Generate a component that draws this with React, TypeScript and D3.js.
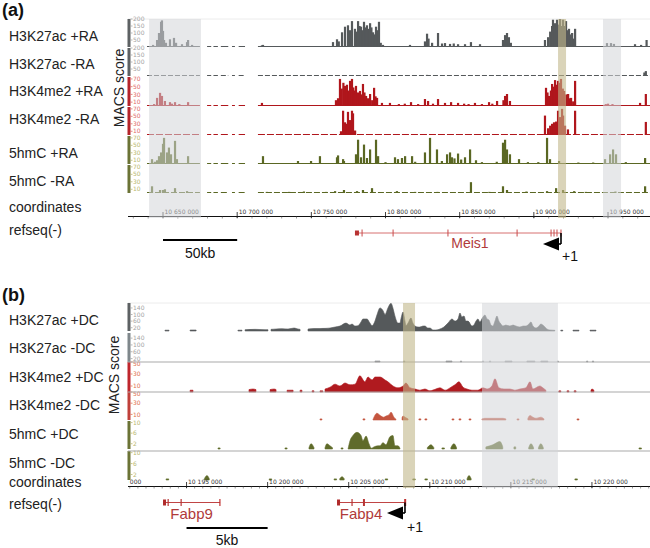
import React from "react";
import * as d3 from "d3";

type Pt = [number, number];

// ================= Panel (a): Meis1 locus (positions in kb) =================
const aDomainKb: Pt = [10626.4, 10978.3];
const aTrackLabels = ["H3K27ac +RA", "H3K27ac -RA", "H3K4me2 +RA", "H3K4me2 -RA", "5hmC +RA", "5hmC -RA"];
const aAxisTicksKb = [10650, 10700, 10750, 10800, 10850, 10900, 10950];
const aH3K27acTicks = [50, 100, 150, 200];
const aH3K4me2Ticks = [10, 30, 50, 70];
const a5hmCTicks = [10, 30, 50, 70];
const aCoverageKb: Pt[] = [[10639.2, 10674.9], [10679.7, 10682.5], [10684.0, 10687.0], [10689.0, 10694.0], [10696.5, 10698.5], [10701.0, 10705.3], [10714.0, 10978.3]];
const aShadeGrayKb: Pt[] = [[10640.6, 10675.6], [10946.6, 10958.8]];
const aShadeTssKb: Pt[] = [[10916.3, 10921.7]];
const aScaleBarKb: Pt = [10650, 10700];

const aH3K27acPlus: Pt[] = [
  [10643.3, 15], [10646.0, 50], [10647.3, 100], [10648.0, 60], [10648.7, 180], [10649.3, 190], [10650.0, 115], [10650.7, 50], [10652.0, 30], [10654.7, 55], [10657.4, 65], [10658.8, 30], [10662.8, 20], [10666.2, 35], [10666.9, 50], [10669.6, 15],
  [10716.7, 12], [10717.4, 15],
  [10764.6, 35], [10767.3, 55], [10768.5, 40], [10770.7, 105], [10772.7, 145], [10774.7, 155], [10776.0, 120], [10777.4, 185], [10779.4, 130], [10780.5, 110], [10781.5, 185], [10782.5, 150], [10783.5, 145], [10784.5, 120], [10785.5, 180], [10786.5, 140], [10787.5, 155], [10788.5, 130], [10789.6, 170], [10790.5, 140], [10791.6, 105], [10792.5, 90], [10793.6, 145], [10794.6, 120], [10795.6, 180], [10796.8, 30],
  [10798.3, 15], [10816.5, 15], [10826.6, 40], [10828.0, 95], [10829.0, 60], [10831.4, 30], [10835.4, 100], [10838.1, 25], [10840.1, 28], [10843.5, 22], [10846.0, 25], [10848.9, 20], [10853.6, 20], [10857.6, 35], [10863.7, 20],
  [10879.2, 50], [10880.6, 85], [10881.9, 100], [10883.2, 70], [10884.5, 30],
  [10907.5, 50], [10909.6, 70], [10911.0, 110], [10912.3, 150], [10912.9, 195], [10914.3, 170], [10915.6, 195], [10916.8, 160], [10917.7, 200], [10918.9, 150], [10919.7, 195], [10920.8, 150], [10921.7, 185], [10922.7, 120], [10923.7, 130], [10924.8, 90], [10925.8, 100], [10926.8, 60], [10927.8, 130],
  [10949.3, 28], [10952.0, 28], [10954.0, 22], [10968.2, 20], [10972.3, 15], [10976.0, 50],
];
const aH3K27acMinus: Pt[] = [[10828.0, 8], [10974.5, 25], [10975.5, 35]];
const aH3K4me2Plus: Pt[] = [
  [10644.0, 5], [10646.0, 21], [10648.0, 34], [10649.3, 26], [10651.3, 13], [10654.7, 10], [10656.0, 6], [10658.1, 10], [10661.0, 5], [10666.9, 10],
  [10716.7, 8],
  [10766.6, 15], [10768.0, 20], [10769.3, 70], [10770.5, 45], [10771.6, 60], [10772.7, 52], [10774.0, 55], [10775.0, 40], [10776.1, 65], [10777.4, 70], [10778.3, 48], [10779.0, 40], [10780.1, 52], [10781.5, 35], [10782.8, 39], [10783.8, 30], [10784.8, 57], [10785.8, 35], [10786.9, 26], [10788.2, 20], [10789.6, 31], [10791.0, 15], [10792.3, 47], [10793.3, 25], [10794.3, 21],
  [10797.6, 8], [10803.0, 8], [10809.0, 5], [10813.0, 6], [10817.2, 10], [10822.0, 5], [10826.6, 18], [10828.7, 13], [10832.0, 6], [10835.4, 18], [10840.1, 8], [10844.2, 10], [10848.9, 8], [10853.0, 6], [10856.0, 5], [10860.3, 8], [10865.0, 5], [10869.8, 10], [10872.0, 6], [10875.2, 13], [10879.5, 15], [10880.6, 26], [10881.9, 31], [10883.9, 13],
  [10908.2, 47], [10909.2, 35], [10910.2, 26], [10911.5, 40], [10912.3, 57], [10913.5, 50], [10914.3, 67], [10915.3, 55], [10916.3, 65], [10917.2, 60], [10918.3, 70], [10919.5, 45], [10920.4, 39], [10921.8, 30], [10923.1, 31], [10924.2, 20], [10925.1, 21], [10926.5, 12], [10927.8, 65],
  [10948.5, 5], [10950.0, 6], [10953.0, 5], [10971.6, 8], [10975.5, 31],
];
const aH3K4me2Minus: Pt[] = [
  [10770.0, 10], [10771.4, 65], [10772.7, 34], [10773.8, 30], [10774.7, 62], [10776.1, 40], [10777.4, 65], [10778.1, 58], [10779.5, 12],
  [10907.5, 52], [10909.6, 18], [10911.0, 25], [10912.3, 30], [10913.6, 34], [10915.0, 36], [10916.3, 65], [10917.7, 48], [10919.0, 70], [10919.7, 52], [10921.0, 25], [10923.0, 15], [10927.8, 65],
  [10975.5, 35],
];
const a5hmCPlus: Pt[] = [
  [10642.6, 13], [10644.5, 6], [10646.0, 10], [10647.3, 21], [10648.7, 31], [10649.5, 20], [10650.0, 54], [10650.7, 70], [10652.7, 31], [10654.0, 44], [10655.4, 26], [10658.1, 62], [10659.4, 13], [10666.9, 21],
  [10717.4, 21], [10741.0, 8], [10749.8, 8], [10755.8, 21],
  [10767.3, 18], [10768.0, 23], [10771.4, 13], [10772.0, 8], [10780.1, 26], [10781.5, 65], [10783.5, 18], [10785.5, 52], [10787.5, 16], [10789.6, 39], [10793.6, 65], [10795.0, 21],
  [10800.0, 5], [10806.4, 18], [10808.4, 13], [10811.1, 16], [10813.2, 21], [10817.9, 21], [10820.0, 6], [10826.6, 31], [10830.0, 70], [10834.7, 39], [10838.0, 8], [10841.5, 26], [10843.5, 31], [10844.8, 18], [10846.5, 15], [10848.9, 28], [10851.0, 12], [10853.6, 18], [10857.0, 39], [10861.0, 10], [10865.0, 5], [10875.0, 6], [10879.2, 57], [10880.6, 65], [10881.9, 39], [10883.9, 26], [10890.0, 13], [10896.0, 5], [10903.0, 5], [10908.9, 70], [10910.9, 13], [10917.0, 8], [10930.0, 4], [10940.0, 4], [10948.0, 13], [10951.4, 26], [10953.4, 39], [10955.4, 26], [10962.0, 5], [10975.0, 16],
];
const a5hmCMinus: Pt[] = [
  [10642.6, 18], [10648.0, 8], [10650.0, 8], [10651.3, 10], [10658.1, 13], [10666.2, 5],
  [10720.0, 3], [10735.0, 3], [10745.0, 4], [10760.0, 3], [10766.0, 5], [10772.0, 8], [10780.8, 5], [10784.8, 8], [10790.9, 13],
  [10807.7, 5], [10820.0, 3], [10835.0, 3], [10857.6, 29], [10870.0, 3], [10879.2, 18], [10881.9, 8], [10895.0, 4], [10908.9, 5], [10915.0, 13], [10919.7, 8], [10927.2, 5], [10935.0, 3], [10955.0, 4], [10975.0, 18],
];
const meis1SpanKb: Pt = [10779.4, 10918.3];
const meis1ExonsKb = [10784.2, 10805.1, 10842.1, 10888.7, 10911.6, 10913.6, 10915.6];

// ================= Panel (b): Fabp4 locus (positions in kb) =================
const bDomainKb: Pt = [10191.39, 10223.58];
const bTrackLabels = ["H3K27ac +DC", "H3K27ac -DC", "H3K4me2 +DC", "H3K4me2 -DC", "5hmC +DC", "5hmC -DC"];
const bAxisTicksKb = [10190, 10195, 10200, 10205, 10210, 10215, 10220];
const bH3K27acTicks = [20, 60, 100, 140];
const bH3K4me2Ticks = [10, 30, 50];
const b5hmCTicks = [2, 6, 10];
const bShadeGrayKb: Pt[] = [[10213.22, 10217.9]];
const bShadeTssKb: Pt[] = [[10208.35, 10209.09]];
const bScaleBarKb: Pt = [10195, 10200];

const bH3K27acPlus: Pt[][] = [
  [[10193.67, 5], [10193.92, 5]],
  [[10195.22, 6], [10195.59, 6]],
  [[10198.17, 5], [10198.42, 5]],
  [[10198.61, 8], [10199.22, 10], [10199.84, 8], [10200.02, 8]],
  [[10200.21, 10], [10200.52, 12], [10200.89, 14], [10201.26, 12], [10201.63, 18], [10201.87, 12], [10202.0, 10]],
  [[10202.49, 12], [10202.86, 15], [10203.23, 15], [10203.6, 16], [10203.85, 18], [10204.16, 24], [10204.46, 30], [10204.83, 48], [10205.08, 36], [10205.2, 42], [10205.39, 30], [10205.57, 32], [10205.76, 55], [10205.88, 73], [10206.13, 73], [10206.31, 48], [10206.44, 32], [10206.62, 60], [10206.74, 97], [10206.93, 140], [10207.11, 125], [10207.24, 100], [10207.42, 140], [10207.61, 168], [10207.73, 138], [10207.85, 91], [10208.04, 48], [10208.16, 48], [10208.22, 73], [10208.35, 115], [10208.47, 60], [10208.53, 32], [10208.66, 48], [10208.84, 79], [10208.96, 48], [10209.09, 30], [10209.27, 24], [10209.39, 24], [10209.58, 30], [10209.7, 30], [10209.88, 18], [10210.01, 18], [10210.2, 6], [10210.38, 6], [10210.63, 12], [10210.87, 24], [10211.12, 48], [10211.37, 73], [10211.55, 60], [10211.74, 73], [10211.86, 109], [10211.98, 85], [10212.11, 91], [10212.23, 60], [10212.36, 60], [10212.6, 30], [10212.72, 36], [10212.85, 60], [10212.97, 73], [10213.09, 55], [10213.28, 85], [10213.4, 97], [10213.53, 73], [10213.65, 67], [10213.77, 36], [10213.89, 30], [10214.02, 60], [10214.14, 91], [10214.26, 60], [10214.39, 42], [10214.51, 30], [10214.69, 36], [10214.94, 30], [10215.13, 36], [10215.31, 30], [10215.56, 24], [10215.75, 30], [10215.93, 30], [10216.11, 42], [10216.24, 55], [10216.36, 30], [10216.55, 18], [10216.73, 30], [10216.85, 42], [10217.04, 30], [10217.22, 12], [10217.4, 6], [10217.71, 4]],
  [[10218.08, 5], [10218.2, 5]],
  [[10218.83, 5], [10219.2, 5]],
  [[10219.88, 5], [10220.25, 5]],
];
const bH3K27acMinus: Pt[][] = [
  [[10206.62, 6], [10206.93, 6]], [[10208.38, 6], [10208.46, 6]], [[10211.0, 6], [10211.37, 6]], [[10211.89, 6], [10211.96, 6]],
  [[10213.25, 6], [10213.32, 6]], [[10213.68, 6], [10213.75, 6]], [[10214.64, 6], [10215.07, 6]], [[10215.99, 6], [10216.48, 6]],
  [[10216.85, 6], [10217.28, 6]], [[10217.87, 6], [10217.93, 6]], [[10219.67, 6], [10219.74, 6]], [[10220.03, 6], [10220.1, 6]],
];
const bH3K4me2Plus: Pt[][] = [
  [[10195.22, 3], [10195.4, 3]],
  [[10198.85, 4], [10199.1, 5], [10199.28, 4]],
  [[10200.15, 4], [10200.4, 5], [10200.52, 4]],
  [[10201.2, 3], [10201.57, 3]],
  [[10202.0, 3], [10202.12, 3]],
  [[10202.74, 2], [10202.86, 2]],
  [[10203.23, 2], [10203.4, 2]],
  [[10203.54, 5], [10203.85, 8], [10204.16, 13], [10204.46, 10], [10204.77, 15], [10205.08, 12], [10205.39, 13], [10205.69, 27], [10206.0, 17], [10206.19, 25], [10206.44, 20], [10206.62, 25], [10206.93, 25], [10207.24, 20], [10207.42, 17], [10207.73, 10], [10208.04, 7], [10208.35, 10], [10208.53, 15], [10208.78, 7], [10209.09, 5], [10209.39, 3], [10209.7, 5], [10210.01, 2], [10210.38, 5], [10210.63, 7], [10210.94, 3], [10211.31, 8], [10211.55, 12], [10211.8, 17], [10212.05, 8], [10212.29, 5], [10212.6, 3], [10212.97, 3], [10213.28, 7], [10213.53, 5], [10213.83, 10], [10214.02, 22], [10214.26, 7], [10214.57, 5], [10214.94, 5], [10215.25, 3], [10215.56, 5], [10215.93, 7], [10216.18, 17], [10216.36, 5], [10216.79, 10], [10216.97, 7], [10217.16, 3]],
  [[10217.96, 2], [10218.08, 2]],
  [[10218.46, 2], [10218.58, 2]],
  [[10218.9, 2], [10219.02, 2]],
  [[10219.94, 3], [10220.0, 5], [10220.12, 3]],
];
const bH3K4me2Minus: Pt[][] = [
  [[10203.23, 2], [10203.35, 2]],
  [[10205.88, 2], [10206.0, 2]],
  [[10206.5, 1], [10206.74, 12], [10206.99, 7], [10207.15, 5], [10207.3, 7], [10207.5, 10], [10207.61, 14], [10207.79, 5], [10207.92, 1]],
  [[10208.29, 4], [10208.35, 7], [10208.53, 4], [10208.66, 2]],
  [[10209.33, 2], [10209.45, 2]],
  [[10209.7, 2], [10209.82, 2]],
  [[10211.37, 2], [10211.49, 2]],
  [[10211.8, 2], [10211.92, 2]],
  [[10212.42, 2], [10212.54, 2]],
  [[10213.22, 2], [10213.4, 3], [10213.71, 3], [10214.02, 3], [10214.51, 3], [10214.69, 2]],
  [[10215.38, 2], [10215.5, 2]],
  [[10216.05, 3], [10216.18, 8], [10216.36, 5], [10216.55, 3], [10216.85, 5], [10217.04, 2]],
  [[10219.08, 2], [10219.2, 2]],
];
const b5hmCPlus: Pt[][] = [
  [[10196.94, 0.4], [10197.07, 0.4]],
  [[10201.07, 0.4], [10201.2, 0.4]],
  [[10202.55, 0.5], [10202.68, 2], [10202.86, 0.5]],
  [[10203.54, 0.5], [10203.66, 2], [10203.85, 1.2], [10204.0, 0.5]],
  [[10204.53, 0.4], [10204.65, 0.4]],
  [[10204.96, 0], [10205.08, 3.1], [10205.26, 5.1], [10205.51, 6.3], [10205.76, 5.1], [10205.88, 3.1], [10206.07, 4.9], [10206.25, 2], [10206.4, 0.3], [10206.56, 0.8], [10206.81, 1.2], [10206.93, 1.2], [10207.11, 2.4], [10207.3, 1.6], [10207.55, 4.7], [10207.73, 5.1], [10207.85, 1.2], [10208.04, 1.2], [10208.16, 0.3]],
  [[10209.85, 0.5], [10210.07, 1.6], [10210.25, 0.5]],
  [[10210.75, 0.4], [10210.9, 0.4]],
  [[10211.3, 0.5], [10211.49, 2], [10211.65, 0.5]],
  [[10213.46, 0.8], [10213.71, 1.2], [10213.89, 1.6], [10214.33, 2.8], [10214.5, 0.8]],
  [[10215.19, 0.8], [10215.3, 0.8]],
  [[10216.1, 0.5], [10216.24, 2], [10216.4, 0.5]],
  [[10216.7, 0.5], [10216.85, 2], [10217.0, 0.5]],
  [[10222.9, 0.4], [10223.05, 0.4]],
];
const b5hmCMinus: Pt[][] = [
  [[10193.74, 0.4], [10193.9, 0.4]],
  [[10196.1, 0.5], [10196.26, 1.6], [10196.4, 0.5]],
  [[10200.1, 0.4], [10200.25, 0.4]],
  [[10204.1, 0.4], [10204.25, 0.4]],
  [[10204.45, 0.5], [10204.59, 1.2], [10204.72, 0.5]],
  [[10207.25, 0.4], [10207.4, 0.4]],
  [[10208.95, 0.4], [10209.1, 0.4]],
  [[10209.7, 0.4], [10209.85, 0.4]],
  [[10212.3, 0.5], [10212.42, 1.6], [10212.55, 0.5]],
  [[10216.3, 0.4], [10216.45, 0.4]],
  [[10218.95, 0.4], [10219.1, 0.4]],
];
const fabp9SpanKb: Pt = [10193.55, 10197.07];
const fabp9ExonsKb = [10193.86, 10194.66];
const fabp4SpanKb: Pt = [10204.28, 10208.47];
const fabp4ExonsKb = [10205.2, 10205.94];

// ================= Styles =================
const FONT = "'Liberation Sans', Arial, Helvetica, sans-serif";
const X0 = 128;
const X1 = 650;
const fmtCoord = (kb: number) => d3.format(",")(Math.round(kb * 1000)).replace(/,/g, " ");

type TrackA = { label: string; data: Pt[]; top: number; base: number; max: number; ticks: number[]; color: string; bar: string; tickColor: string; labelY: number; dash?: string };
type TrackB = { label: string; data: Pt[][]; top: number; base: number; max: number; ticks: number[]; color: string; bar: string; tickColor: string; labelY: number };

export default function App() {
  const xa = d3.scaleLinear().domain(aDomainKb).range([X0, X1]);
  const xb = d3.scaleLinear().domain(bDomainKb).range([X0, X1]);

  const GRAY = "#55595b", RED = "#b0161c", OLIVE = "#5a6723";
  const aTracks: TrackA[] = [
    { label: aTrackLabels[0], data: aH3K27acPlus, top: 19, base: 47, max: 200, ticks: aH3K27acTicks, color: GRAY, bar: "#5d6163", tickColor: "#a3a3a3", labelY: 41 },
    { label: aTrackLabels[1], data: aH3K27acMinus, top: 48, base: 76, max: 200, ticks: aH3K27acTicks, color: GRAY, bar: "#5d6163", tickColor: "#a3a3a3", labelY: 69, dash: "5 2" },
    { label: aTrackLabels[2], data: aH3K4me2Plus, top: 77, base: 106, max: 75, ticks: aH3K4me2Ticks, color: RED, bar: "#b5242a", tickColor: "#e06a6a", labelY: 96 },
    { label: aTrackLabels[3], data: aH3K4me2Minus, top: 107, base: 135, max: 75, ticks: aH3K4me2Ticks, color: RED, bar: "#b5242a", tickColor: "#e06a6a", labelY: 124, dash: "7 2" },
    { label: aTrackLabels[4], data: a5hmCPlus, top: 136, base: 164, max: 75, ticks: a5hmCTicks, color: OLIVE, bar: "#6b7335", tickColor: "#b8b870", labelY: 158 },
    { label: aTrackLabels[5], data: a5hmCMinus, top: 165, base: 193, max: 75, ticks: a5hmCTicks, color: OLIVE, bar: "#6b7335", tickColor: "#b8b870", labelY: 186, dash: "6 2" },
  ];
  const bTracks: TrackB[] = [
    { label: bTrackLabels[0], data: bH3K27acPlus, top: 303, base: 331, max: 170, ticks: bH3K27acTicks, color: "#55595b", bar: "#5d6163", tickColor: "#a3a3a3", labelY: 325 },
    { label: bTrackLabels[1], data: bH3K27acMinus, top: 333, base: 362, max: 170, ticks: bH3K27acTicks, color: "#8a8d8f", bar: "#7f878b", tickColor: "#a3a3a3", labelY: 353 },
    { label: bTrackLabels[2], data: bH3K4me2Plus, top: 362, base: 392, max: 50, ticks: bH3K4me2Ticks, color: "#b01a1f", bar: "#bf262c", tickColor: "#e07050", labelY: 382 },
    { label: bTrackLabels[3], data: bH3K4me2Minus, top: 392, base: 420, max: 50, ticks: bH3K4me2Ticks, color: "#c4553f", bar: "#c0403a", tickColor: "#e07050", labelY: 410 },
    { label: bTrackLabels[4], data: b5hmCPlus, top: 421, base: 449, max: 10.6, ticks: b5hmCTicks, color: "#5f6b2a", bar: "#6b7335", tickColor: "#b8b870", labelY: 439 },
    { label: bTrackLabels[5], data: b5hmCMinus, top: 451, base: 480, max: 10.6, ticks: b5hmCTicks, color: "#5f6b2a", bar: "#6b7335", tickColor: "#b8b870", labelY: 468 },
  ];

  const scaleLabels = (t: { top: number; base: number; ticks: number[]; bar: string; tickColor: string }, y: d3.ScaleLinear<number, number>, shiftTop: boolean) => (
    <g>
      <rect x={X0 - 0.5} y={t.top} width={3} height={t.base - t.top} fill={t.bar} />
      {t.ticks.map((v) => {
        const yy = y(v);
        const atTop = shiftTop && yy <= t.top + 1.5;
        return (
          <g key={v}>
            <line x1={X0 + 2.5} x2={X0 + 4.5} y1={yy} y2={yy} stroke={t.tickColor} strokeWidth={0.8} />
            <text x={X0 + 5} y={yy + (atTop ? 4.2 : 2.1)} fontSize={6} fill={t.tickColor} fontFamily="'DejaVu Sans', sans-serif">{v}</text>
          </g>
        );
      })}
    </g>
  );

  const aMinor = d3.range(10630, 10980, 10);
  const bMinor = d3.range(10191.5, 10223.6, 0.5);

  const arrow = (x: number, yGene: number, yArrow: number) => (
    <g>
      <line x1={x} x2={x} y1={yGene} y2={yArrow} stroke="#000" strokeWidth={1.6} />
      <line x1={x} x2={x - 4} y1={yArrow} y2={yArrow} stroke="#000" strokeWidth={1.6} />
      <path d={`M${x - 18},${yArrow} L${x - 2},${yArrow - 6.5} L${x - 2},${yArrow + 6.5} Z`} fill="#000" />
    </g>
  );

  return (
    <svg width={650} height={548} style={{ position: "absolute", left: 0, top: 0, background: "#fff" }} fontFamily={FONT}>
      <defs>
        <clipPath id="clipB"><rect x={128} y={470} width={523} height={30} /></clipPath>
      </defs>
      <rect x={0} y={0} width={650} height={548} fill="#fff" />

      {/* ================= (a) ================= */}
      <text x={2} y={16} fontSize={18} fontWeight="bold" fill="#111">(a)</text>
      <line x1={X0} x2={X1} y1={19} y2={19} stroke="#ececec" />
      {aTracks.map((t, i) => {
        const y = d3.scaleLinear().domain([0, t.max]).range([t.base, t.top]);
        return (
          <g key={"a" + i}>
            <text x={9} y={t.labelY} fontSize={14} fill="#222">{t.label}</text>
            {aCoverageKb.map(([s, e], j) => (
              <line key={j} x1={xa(s)} x2={xa(e)} y1={t.base - 0.5} y2={t.base - 0.5} stroke={t.color} strokeWidth={1} strokeDasharray={t.dash} />
            ))}
            <g fill={t.color}>
              {t.data.map(([k, v], j) => (
                <rect key={j} x={xa(k) - 1.1} y={y(v)} width={2.2} height={t.base - y(v)} />
              ))}
            </g>
            {scaleLabels(t, y, false)}
          </g>
        );
      })}
      <text transform="translate(124,88) rotate(-90)" textAnchor="middle" fontSize={14} fill="#222">MACS score</text>
      <text x={9} y={212} fontSize={14} fill="#222">coordinates</text>
      <text x={9} y={235} fontSize={14} fill="#222">refseq(-)</text>

      {/* coordinates axis (a) */}
      <line x1={X0} x2={X1} y1={216.5} y2={216.5} stroke="#111" strokeWidth={1} />
      {aMinor.map((k) => (
        <line key={k} x1={xa(k)} x2={xa(k)} y1={216.5} y2={218.5} stroke="#555" strokeWidth={0.6} />
      ))}
      {aAxisTicksKb.map((k) => (
        <g key={k}>
          <line x1={xa(k)} x2={xa(k)} y1={212} y2={218} stroke="#111" strokeWidth={0.8} />
          <text x={xa(k) + 1.5} y={214} fontSize={6} fill="#333" fontFamily="'DejaVu Sans', sans-serif">{fmtCoord(k)}</text>
        </g>
      ))}

      {/* gene (a) */}
      <line x1={xa(meis1SpanKb[0])} x2={xa(meis1SpanKb[1])} y1={233} y2={233} stroke="#d77070" strokeWidth={1} />
      <rect x={xa(meis1SpanKb[0])} y={230.5} width={4} height={5} fill="#b83232" />
      {meis1ExonsKb.map((k) => (
        <line key={k} x1={xa(k)} x2={xa(k)} y1={229.5} y2={236.5} stroke="#c94a4a" strokeWidth={1} />
      ))}
      <line x1={xa(meis1SpanKb[1])} x2={xa(meis1SpanKb[1])} y1={229.5} y2={236.5} stroke="#c94a4a" strokeWidth={1} />
      {arrow(xa(meis1SpanKb[1]), 233, 244)}
      <text x={xa((meis1SpanKb[0] + meis1SpanKb[1]) / 2) + 12} y={248} fontSize={14} fill="#b03a3a" textAnchor="middle">Meis1</text>
      <text x={xa(meis1SpanKb[1]) + 1} y={261} fontSize={14} fill="#111">+1</text>
      <line x1={xa(aScaleBarKb[0])} x2={xa(aScaleBarKb[1])} y1={240} y2={240} stroke="#000" strokeWidth={2} />
      <text x={xa((aScaleBarKb[0] + aScaleBarKb[1]) / 2)} y={258} fontSize={14} textAnchor="middle" fill="#111">50kb</text>

      {/* shading (a) */}
      {aShadeGrayKb.map(([s, e], i) => (
        <rect key={"ag" + i} x={xa(s)} y={19} width={xa(e) - xa(s)} height={199} fill="#d3d5d8" opacity={0.55} />
      ))}
      {aShadeTssKb.map(([s, e], i) => (
        <rect key={"at" + i} x={xa(s)} y={19} width={xa(e) - xa(s)} height={199} fill="#c2b78a" opacity={0.6} />
      ))}

      {/* ================= (b) ================= */}
      <text x={2} y={301} fontSize={18} fontWeight="bold" fill="#111">(b)</text>
      <line x1={X0} x2={X1} y1={303} y2={303} stroke="#ececec" />
      {bTracks.map((t, i) => {
        const y = d3.scaleLinear().domain([0, t.max]).range([t.base, t.top]);
        const area = d3.area<Pt>().x((d) => xb(d[0])).y0(t.base).y1((d) => y(d[1])).curve(d3.curveMonotoneX);
        return (
          <g key={"b" + i}>
            <text x={9} y={t.labelY} fontSize={14} fill="#222">{t.label}</text>
            {t.data.map((isl, j) => (
              <path key={j} d={area(isl) || ""} fill={t.color} stroke={t.color} strokeWidth={0.6} />
            ))}
            {scaleLabels(t, y, true)}
          </g>
        );
      })}
      {[362, 392, 451].map((yy) => (
        <line key={yy} x1={X0} x2={X1} y1={yy} y2={yy} stroke="#a9a9a9" strokeWidth={1} />
      ))}
      <text transform="translate(119,375) rotate(-90)" textAnchor="middle" fontSize={14} fill="#222">MACS score</text>
      <text x={9} y={487} fontSize={14} fill="#222">coordinates</text>
      <text x={9} y={509} fontSize={14} fill="#222">refseq(-)</text>

      {/* coordinates axis (b) */}
      <line x1={X0} x2={X1} y1={486.5} y2={486.5} stroke="#111" strokeWidth={1} />
      {bMinor.map((k) => (
        <line key={k} x1={xb(k)} x2={xb(k)} y1={486.5} y2={488.5} stroke="#555" strokeWidth={0.6} />
      ))}
      <g clipPath="url(#clipB)">
        {bAxisTicksKb.map((k) => (
          <g key={k}>
            <line x1={xb(k)} x2={xb(k)} y1={482} y2={488} stroke="#111" strokeWidth={0.8} />
            <text x={xb(k) + 1.5} y={484} fontSize={6} fill="#333" fontFamily="'DejaVu Sans', sans-serif">{fmtCoord(k)}</text>
          </g>
        ))}
      </g>

      {/* genes (b) */}
      {[{ span: fabp9SpanKb, exons: fabp9ExonsKb, name: "Fabp9" }, { span: fabp4SpanKb, exons: fabp4ExonsKb, name: "Fabp4" }].map((g) => (
        <g key={g.name}>
          <line x1={xb(g.span[0])} x2={xb(g.span[1])} y1={502.5} y2={502.5} stroke="#c04545" strokeWidth={1} />
          <rect x={xb(g.span[0])} y={499.5} width={3} height={6} fill="#b02a2a" />
          {g.exons.map((k, j) => (
            <rect key={k} x={xb(k) - (j === 1 && g.name === "Fabp4" ? 1 : 0.5)} y={499} width={j === 1 && g.name === "Fabp4" ? 2 : 1.2} height={7} fill="#b83535" />
          ))}
          <rect x={xb(g.span[1]) - 0.8} y={499} width={g.name === "Fabp4" ? 2 : 1.2} height={7} fill="#c03030" />
          <text x={xb((g.span[0] + g.span[1]) / 2) + (g.name === "Fabp4" ? -10 : 0)} y={519} fontSize={15} fill="#b03a3a" textAnchor="middle">{g.name}</text>
        </g>
      ))}
      {arrow(xb(fabp4SpanKb[1]), 502.5, 513)}
      <text x={xb(fabp4SpanKb[1]) + 2} y={532} fontSize={14} fill="#111">+1</text>
      <line x1={xb(bScaleBarKb[0])} x2={xb(bScaleBarKb[1])} y1={528} y2={528} stroke="#000" strokeWidth={2} />
      <text x={xb((bScaleBarKb[0] + bScaleBarKb[1]) / 2)} y={545} fontSize={14} textAnchor="middle" fill="#111">5kb</text>

      {/* shading (b) */}
      {bShadeGrayKb.map(([s, e], i) => (
        <rect key={"bg" + i} x={xb(s)} y={303} width={xb(e) - xb(s)} height={185} fill="#d3d5d8" opacity={0.55} />
      ))}
      {bShadeTssKb.map(([s, e], i) => (
        <rect key={"bt" + i} x={xb(s)} y={303} width={xb(e) - xb(s)} height={185} fill="#c2b78a" opacity={0.6} />
      ))}
    </svg>
  );
}
